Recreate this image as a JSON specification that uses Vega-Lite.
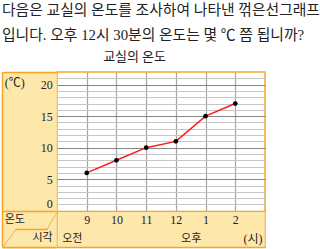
{
  "$schema": "https://vega.github.io/schema/vega-lite/v6.json",
  "autosize": {"type": "none"},
  "padding": {"left": 57, "top": 72, "right": 55, "bottom": 2},
  "background": "white",
  "width": 208,
  "height": 175,
  "title": {
    "text": ["다음은 교실의 온도를 조사하여 나타낸 꺾은선그래프", "입니다. 오후 12시 30분의 온도는 몇 ℃ 쯤 됩니까?"],
    "anchor": "start",
    "frame": "group",
    "dx": -55,
    "font": "Liberation Serif, Noto Sans CJK KR",
    "fontSize": 14.8,
    "fontWeight": "normal",
    "lineHeight": 25,
    "color": "#222222",
    "offset": 8
  },
  "data": {
    "values": [
      {"hour": 9, "temp": 6},
      {"hour": 10, "temp": 8},
      {"hour": 11, "temp": 10},
      {"hour": 12, "temp": 11},
      {"hour": 13, "temp": 15},
      {"hour": 14, "temp": 17}
    ]
  },
  "encoding": {
    "x": {
      "field": "hour",
      "type": "quantitative",
      "scale": {"domain": [8, 15], "nice": false, "zero": false},
      "axis": {
        "title": null,
        "orient": "bottom",
        "values": [11.5, 9, 10, 11, 12, 13, 14, 8.5, 12.5, 14.58],
        "grid": true,
        "gridColor": "#a5a5a5",
        "gridWidth": 1.2,
        "gridOpacity": {"condition": {"test": "datum.value !== floor(datum.value)", "value": 0}, "value": 1},
        "domain": true,
        "domainColor": "#F6A623",
        "domainWidth": 1.5,
        "ticks": true,
        "tickSize": -35.5,
        "tickColor": {"condition": {"test": "datum.value === 11.5", "value": "#FEE7AA"}, "value": "transparent"},
        "tickWidth": {"condition": {"test": "datum.value === 11.5", "value": 206.5}, "value": 1},
        "labelExpr": "datum.value === 8.5 ? '오전' : datum.value === 12.5 ? '오후' : datum.value === 14.58 ? '(시)' : datum.value === 11.5 ? '' : (datum.value > 12 ? datum.value - 12 : datum.value) + ''",
        "labelBaseline": "middle",
        "labelAngle": 0,
        "labelPadding": {"condition": {"test": "datum.value === 8.5 || datum.value === 12.5 || datum.value === 14.58", "value": 26.5}, "value": 8},
        "labelFont": {"condition": {"test": "datum.value === 8.5 || datum.value === 12.5", "value": "Noto Sans CJK KR"}, "value": "Liberation Serif, Noto Sans CJK KR"},
        "labelFontSize": {"condition": {"test": "datum.value === 8.5 || datum.value === 12.5", "value": 11}, "value": 12},
        "labelColor": "#222222",
        "labelOverlap": false,
        "labelFlush": false,
        "labelBound": false
      }
    },
    "y": {
      "field": "temp",
      "type": "quantitative",
      "scale": {"domain": [-5.75, 22], "nice": false, "zero": false},
      "axis": {
        "orient": "left",
        "offset": 55,
        "values": [-5.75, 0, 1, 2, 3, 4, 5, 6, 7, 8, 9, 10, 11, 12, 13, 14, 15, 16, 17, 18, 19, 20, 21, 22, -5.74, -2.9, 20.41, -1.39, -4.32],
        "grid": true,
        "gridColor": {"condition": [{"test": "datum.value === 0", "value": "#F6A623"}, {"test": "datum.value % 5 === 0", "value": "#858585"}], "value": "#c6c6c6"},
        "gridOpacity": {"condition": {"test": "datum.value < 0 || datum.value > 21 || datum.value !== floor(datum.value)", "value": 0}, "value": 1},
        "gridWidth": {"condition": {"test": "datum.value === 0", "value": 1.5}, "value": 1},
        "domain": true,
        "domainColor": "#F6A623",
        "domainWidth": 1.5,
        "ticks": true,
        "tickSize": -54.25,
        "tickColor": {"condition": [{"test": "datum.value === -5.75", "value": "#FEE7AA"}, {"test": "datum.value === 0 || datum.value === 22 || datum.value === -5.74 || datum.value === -2.9", "value": "#F6A623"}], "value": "transparent"},
        "tickWidth": {"condition": {"test": "datum.value === -5.75", "value": 350}, "value": 1.5},
        "tickDash": {"condition": {"test": "datum.value === -2.9", "value": [32, 100]}, "value": []},
        "tickDashOffset": {"condition": {"test": "datum.value === -2.9", "value": -13}, "value": 0},
        "labelExpr": "datum.value === 20.41 ? '(℃)' : datum.value === -1.39 ? '온도' : datum.value === -4.32 ? '시각' : (datum.value >= 0 && datum.value <= 20 && datum.value % 5 === 0) ? datum.label : ''",
        "labelAlign": {"condition": {"test": "datum.value === 20.41 || datum.value === -1.39", "value": "left"}, "value": "right"},
        "labelPadding": {"condition": {"test": "datum.value === 20.41 || datum.value === -1.39", "value": 52}, "value": 4},
        "labelBaseline": {"condition": {"test": "datum.value === 0", "value": "bottom"}, "value": "middle"},
        "labelFont": {"condition": {"test": "datum.value === -1.39 || datum.value === -4.32", "value": "Noto Sans CJK KR"}, "value": "Liberation Serif, Noto Sans CJK KR"},
        "labelFontSize": {"condition": {"test": "datum.value === -1.39 || datum.value === -4.32", "value": 11}, "value": 12},
        "labelColor": "#222222",
        "labelOverlap": false,
        "labelFlush": false,
        "labelBound": false,
        "title": "─────",
        "titleFont": "DejaVu Sans Mono",
        "titleFontSize": 6.7,
        "titleFontWeight": "bold",
        "titleColor": "#F29A12",
        "titleAngle": -59,
        "titleAlign": "center",
        "titleBaseline": "middle",
        "titleX": 49.85,
        "titleY": 148.35
      }
    }
  },
  "layer": [
    {"mark": {"type": "line", "color": "#ff1a1a", "strokeWidth": 1.5}},
    {
      "mark": {"type": "point", "filled": true, "color": "#000000", "size": 22, "opacity": 1},
      "encoding": {
        "x": {
          "field": "hour",
          "type": "quantitative",
          "axis": {
            "orient": "top",
            "title": "교실의 온도",
            "titleFont": "Noto Sans CJK KR",
            "titleFontSize": 13,
            "titleFontWeight": "normal",
            "titleColor": "#222222",
            "titleX": 77,
            "titlePadding": 8.5,
            "domain": false,
            "ticks": false,
            "labels": false,
            "grid": false
          }
        },
        "y": {
          "field": "temp",
          "type": "quantitative",
          "axis": {
            "orient": "left",
            "offset": 55,
            "domain": false,
            "ticks": false,
            "labels": false,
            "grid": false,
            "title": "─────",
            "titleFont": "DejaVu Sans Mono",
            "titleFontSize": 7,
            "titleFontWeight": "bold",
            "titleColor": "#F29A12",
            "titleAngle": -54,
            "titleAlign": "center",
            "titleBaseline": "middle",
            "titleX": 7.6,
            "titleY": 165.5
          }
        }
      }
    }
  ],
  "resolve": {"axis": {"x": "independent", "y": "independent"}},
  "config": {
    "view": {"stroke": "#F6A623", "strokeWidth": 1.5, "fill": "white"}
  }
}
